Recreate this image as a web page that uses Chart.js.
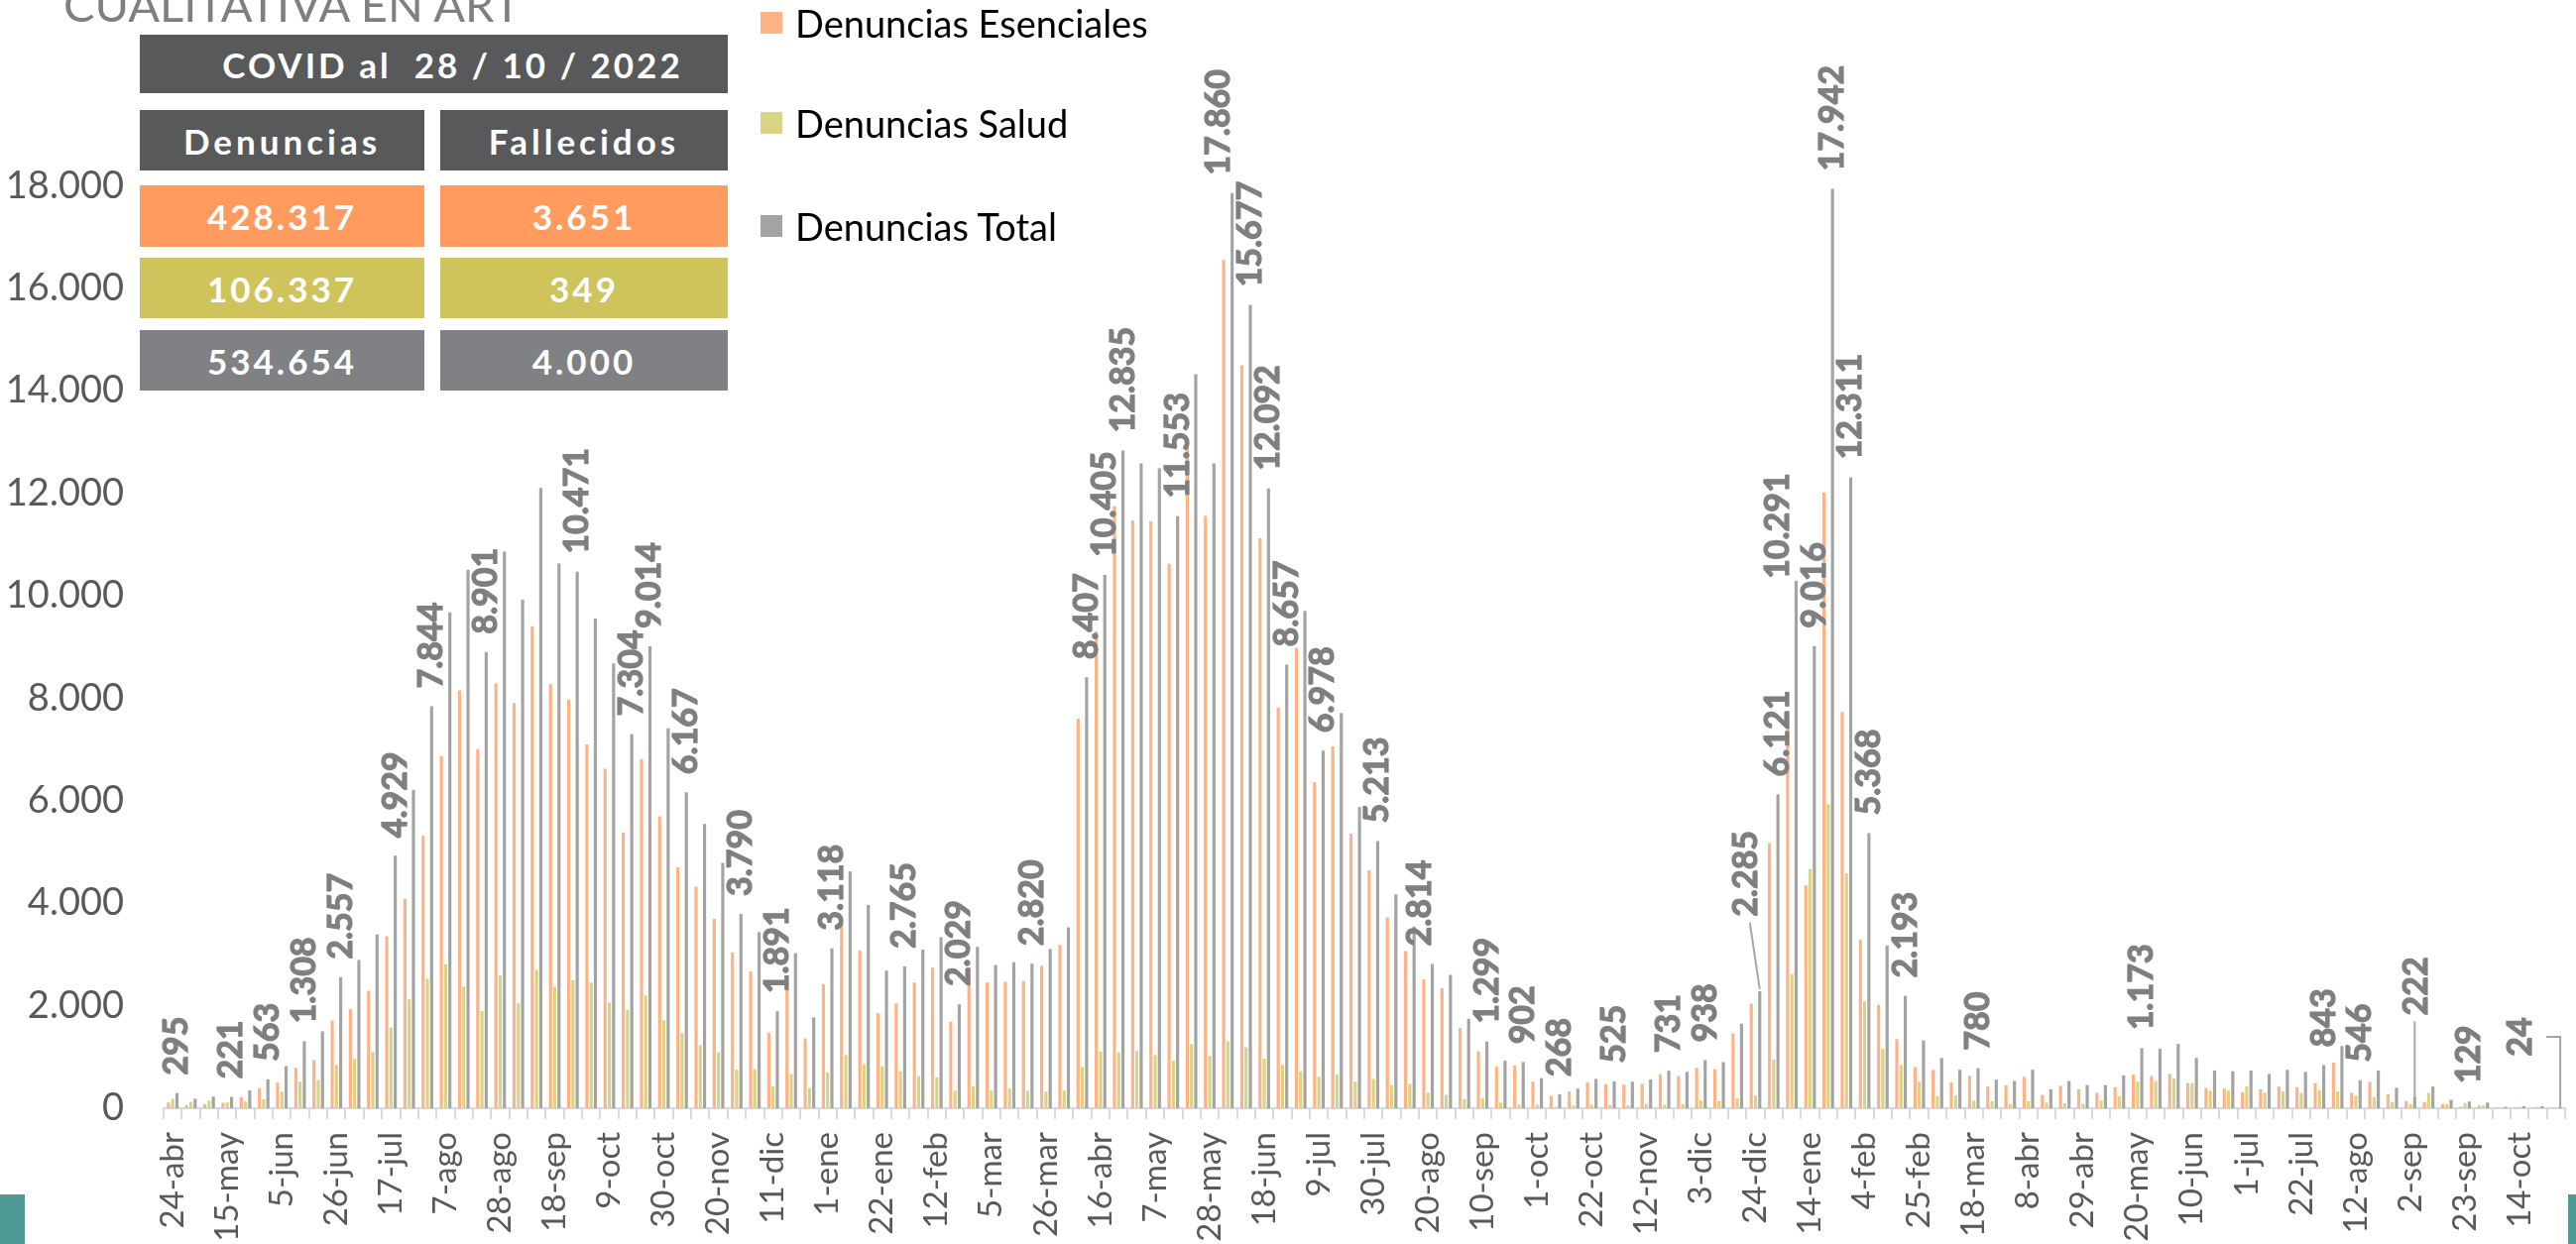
<!DOCTYPE html>
<html lang="es">
<head>
<meta charset="utf-8">
<title>Denuncias COVID en ART</title>
<script src="https://cdn.jsdelivr.net/npm/chart.js@4.4.1/dist/chart.umd.min.js"></script>
<style>
    html, body { margin: 0; padding: 0; background: #ffffff; }
    body { position: relative; width: 2598px; height: 1255px; overflow: hidden; font-family: Lato, "Liberation Sans", sans-serif; }
    #denunciasChart { position: absolute; left: 0; top: 0; }
    .title { position: absolute; left: 64px; top: -20px; font-size: 47px; line-height: 48px; color: #7f7f7f; white-space: nowrap; }
    .cell { position: absolute; display: flex; align-items: center; justify-content: center; color: #ffffff; font-weight: 700; font-size: 35px; letter-spacing: 3px; white-space: nowrap; }
    .dark { background: #58595b; }
    .orange { background: #ff9b5e; }
    .olive { background: #cfc45c; }
    .grey { background: #808184; }
    .legend-item { position: absolute; left: 767px; display: flex; align-items: center; font-size: 38px; color: #000000; white-space: nowrap; }
    .legend-item span { display: inline-block; width: 22px; height: 22px; margin-right: 13px; }
    .teal { position: absolute; background: #4f9a94; }
</style>
</head>
<body>
<canvas id="denunciasChart" width="2598" height="1255"></canvas>

<div class="title">CUALITATIVA EN ART</div>

<!-- summary table -->
<div class="cell dark" style="left:141px; top:35px; width:593px; height:59px; padding-left:38px; box-sizing:border-box;">COVID al&nbsp; 28 / 10 / 2022</div>
<div class="cell dark" style="left:141px; top:111px; width:287px; height:61px; letter-spacing:4px;">Denuncias</div>
<div class="cell dark" style="left:444px; top:111px; width:290px; height:61px; letter-spacing:4px;">Fallecidos</div>
<div class="cell orange" style="left:141px; top:187px; width:287px; height:62px;">428.317</div>
<div class="cell orange" style="left:444px; top:187px; width:290px; height:62px;">3.651</div>
<div class="cell olive" style="left:141px; top:260px; width:287px; height:61px;">106.337</div>
<div class="cell olive" style="left:444px; top:260px; width:290px; height:61px;">349</div>
<div class="cell grey" style="left:141px; top:333px; width:287px; height:61px;">534.654</div>
<div class="cell grey" style="left:444px; top:333px; width:290px; height:61px;">4.000</div>

<!-- legend -->
<div class="legend-item" style="top:2px; height:42px;"><span style="background:#fdb383"></span>Denuncias Esenciales</div>
<div class="legend-item" style="top:103px; height:42px;"><span style="background:#d8d385"></span>Denuncias Salud</div>
<div class="legend-item" style="top:207px; height:42px;"><span style="background:#a3a3a3"></span>Denuncias Total</div>

<div class="teal" style="left:0; top:1205px; width:25px; height:50px;"></div>
<div class="teal" style="left:2590px; top:1205px; width:8px; height:50px;"></div>

<script>
// tick labels, one every three weeks (24-abr-2020 ... 28-oct-2022)
const tickLabels = [
    "24-abr", "15-may", "5-jun", "26-jun", "17-jul", "7-ago", "28-ago", "18-sep", "9-oct", "30-oct",
    "20-nov", "11-dic", "1-ene", "22-ene", "12-feb", "5-mar", "26-mar", "16-abr", "7-may", "28-may",
    "18-jun", "9-jul", "30-jul", "20-ago", "10-sep", "1-oct", "22-oct", "12-nov", "3-dic", "24-dic",
    "14-ene", "4-feb", "25-feb", "18-mar", "8-abr", "29-abr", "20-may", "10-jun", "1-jul", "22-jul",
    "12-ago", "2-sep", "23-sep", "14-oct"
];

// weekly categories: each tick label followed by two unlabeled weeks
const weeks = tickLabels.flatMap((label) => [label, "", ""]);

const esenciales = [
    108, 60, 80, 105, 216, 389, 497, 788, 940, 1710, 1933, 2290,
    3355, 4085, 5316, 6870, 8151, 7006, 8287, 7905, 9405, 8273, 7974, 7101,
    6624, 5384, 6815, 5697, 4700, 4321, 3694, 3040, 2671, 1470, 2358, 1363,
    2423, 3585, 3080, 1854, 2043, 2453, 2740, 1688, 2726, 2453, 2467, 2480,
    2781, 3189, 7603, 9301, 11745, 11463, 11449, 10626, 13071, 11558, 16552, 14491,
    11124, 7812, 8983, 6365, 7061, 5357, 4641, 3721, 3067, 2514, 2344, 1567,
    1108, 818, 834, 518, 241, 327, 504, 470, 463, 477, 663, 627,
    788, 763, 1458, 2040, 5167, 7674, 4350, 12013, 7731, 3283, 2017, 1348,
    804, 749, 504, 630, 423, 450, 613, 259, 437, 368, 300, 409,
    654, 627, 668, 491, 395, 381, 313, 368, 423, 409, 489, 886,
    301, 518, 273, 140, 123, 82, 30, 54, 10, 14, 14, 10
];

const salud = [
    184, 125, 147, 116, 130, 174, 324, 520, 551, 847, 961, 1102,
    1574, 2125, 2528, 2808, 2372, 1895, 2590, 2045, 2699, 2372, 2497, 2453,
    2058, 1920, 2199, 1717, 1467, 1227, 1090, 750, 763, 421, 668, 395,
    695, 1036, 859, 818, 722, 627, 600, 341, 423, 341, 382, 340,
    327, 341, 804, 1104, 1090, 1118, 1036, 927, 1254, 1022, 1308, 1186,
    968, 845, 722, 613, 654, 518, 572, 450, 477, 300, 259, 177,
    191, 109, 68, 68, 27, 55, 68, 55, 55, 82, 68, 82,
    150, 136, 191, 245, 954, 2617, 4666, 5929, 4580, 2085, 1159, 845,
    518, 232, 245, 150, 136, 82, 136, 109, 95, 82, 150, 232,
    519, 532, 586, 491, 341, 341, 423, 300, 327, 300, 354, 327,
    245, 218, 123, 82, 300, 82, 99, 55, 12, 27, 27, 14
];

const total = [
    295, 184, 227, 221, 346, 563, 821, 1308, 1501, 2557, 2894, 3391,
    4929, 6210, 7844, 9677, 10509, 8901, 10863, 9923, 12103, 10631, 10471, 9555,
    8682, 7304, 9014, 7415, 6167, 5547, 4784, 3790, 3435, 1891, 3026, 1772,
    3118, 4621, 3966, 2685, 2765, 3094, 3339, 2029, 3149, 2794, 2849, 2820,
    3108, 3530, 8407, 10405, 12835, 12580, 12485, 11553, 14325, 12580, 17860, 15677,
    12092, 8657, 9705, 6978, 7715, 5875, 5213, 4171, 3544, 2814, 2603, 1745,
    1299, 927, 902, 586, 268, 382, 572, 525, 518, 559, 731, 709,
    938, 900, 1649, 2285, 6121, 10291, 9016, 17942, 12311, 5368, 3176, 2193,
    1322, 981, 750, 780, 559, 532, 750, 368, 532, 450, 450, 641,
    1173, 1159, 1254, 981, 736, 722, 736, 668, 750, 709, 843, 1213,
    546, 736, 395, 222, 423, 164, 129, 109, 27, 41, 41, 24
];

// weeks whose total carries a value label
const labeledWeeks = [
    0, 3, 5, 7, 9, 12, 14, 17, 22, 25, 26, 28, 31, 33, 36, 40, 43, 47, 50, 51,
    52, 55, 58, 59, 60, 61, 63, 66, 69, 72, 74, 76, 79, 82, 84, 87, 88, 89, 90, 91,
    92, 93, 95, 99, 108, 118, 120, 123, 126, 131
];

// labels moved by hand in the original (pixels), some with a leader line
const labelShift = {
    58: { dx: -14, dy: 0 },
    69: { dx: -12, dy: 0 },
    87: { dx: -14, dy: 57, leader: "diagonal" },
    89: { dx: -18, dy: -16 },
    123: { dx: 2, dy: 64, leader: "vertical" },
    131: { dx: -40, dy: 33, leader: "bracket" }
};

// 1234 -> "1.234"
function formatNumber(value) {
    return String(value).replace(/\B(?=(\d{3})+(?!\d))/g, ".");
}

// Draw the rotated value labels above the total bars
const totalLabels = {
    id: "totalLabels",
    afterDatasetsDraw(chart) {
        const ctx = chart.ctx;
        const bars = chart.getDatasetMeta(2).data;
        ctx.save();
        ctx.font = "bold 34px Lato";
        ctx.textAlign = "left";
        ctx.textBaseline = "middle";
        labeledWeeks.forEach((i) => {
            const bar = bars[i];
            const shift = labelShift[i] || { dx: 0, dy: 0 };
            const x = bar.x + shift.dx;
            const bottom = bar.y - 18 - shift.dy;
            const text = formatNumber(total[i]);
            const textWidth = ctx.measureText(text).width;

            ctx.save();
            ctx.translate(x, bottom);
            ctx.rotate(-Math.PI / 2);
            ctx.fillStyle = "#7f7f7f";
            ctx.strokeStyle = "#7f7f7f";
            ctx.lineWidth = 1.2; // a touch heavier, like the original bold labels
            ctx.fillText(text, 0, 0);
            ctx.strokeText(text, 0, 0);
            ctx.restore();

            if (shift.leader) {
                ctx.strokeStyle = "#a6a6a6";
                ctx.lineWidth = 2;
                ctx.beginPath();
                if (shift.leader === "diagonal") {
                    ctx.moveTo(x + 4, bottom + 6);
                    ctx.lineTo(bar.x, bar.y - 2);
                } else if (shift.leader === "vertical") {
                    ctx.moveTo(bar.x, bottom + 6);
                    ctx.lineTo(bar.x, bar.y);
                } else {
                    const mid = bottom - textWidth / 2;
                    ctx.moveTo(x + 26, mid);
                    ctx.lineTo(bar.x, mid);
                    ctx.lineTo(bar.x, bar.y);
                }
                ctx.stroke();
            }
        });
        ctx.restore();
    }
};

function renderChart() {
    const ctx = document.getElementById("denunciasChart").getContext("2d");

    new Chart(ctx, {
        type: "bar",
        data: {
            labels: weeks,
            datasets: [
                { label: "Denuncias Esenciales", data: esenciales, backgroundColor: "#fdb383" },
                { label: "Denuncias Salud", data: salud, backgroundColor: "#d8d385" },
                { label: "Denuncias Total", data: total, backgroundColor: "#a3a3a3" }
            ]
        },
        options: {
            responsive: false,
            devicePixelRatio: 1,
            animation: false,
            categoryPercentage: 0.7,
            barPercentage: 0.74,
            layout: { padding: { left: 0, top: 84, right: 11, bottom: 0 } },
            plugins: {
                legend: { display: false },
                tooltip: { enabled: false }
            },
            scales: {
                x: {
                    // fixed axis height, and no extra side padding for the rotated labels
                    afterFit: (scale) => {
                        scale.height = 137;
                        scale.paddingLeft = 0;
                        scale.paddingRight = 0;
                    },
                    grid: {
                        display: true,
                        drawOnChartArea: false,
                        drawTicks: true,
                        tickLength: 11,
                        color: "#d9d9d9",
                        lineWidth: 2
                    },
                    border: { display: true, color: "#d9d9d9", width: 2 },
                    ticks: {
                        autoSkip: false,
                        maxRotation: 90,
                        minRotation: 90,
                        padding: 13,
                        color: "#595959",
                        font: { family: "Lato", size: 33 }
                    }
                },
                y: {
                    min: 0,
                    max: 20000,
                    afterFit: (scale) => { scale.width = 165; },
                    grid: { display: false, drawTicks: false },
                    border: { display: false },
                    ticks: {
                        stepSize: 2000,
                        padding: 40,
                        color: "#595959",
                        font: { family: "Lato", size: 38 },
                        callback: (value) => (value >= 20000 ? "" : formatNumber(value))
                    }
                }
            }
        },
        plugins: [totalLabels]
    });
}

document.addEventListener("DOMContentLoaded", function () {
    if (document.fonts && document.fonts.ready) {
        document.fonts.ready.then(renderChart);
    } else {
        renderChart();
    }
});
</script>
</body>
</html>
